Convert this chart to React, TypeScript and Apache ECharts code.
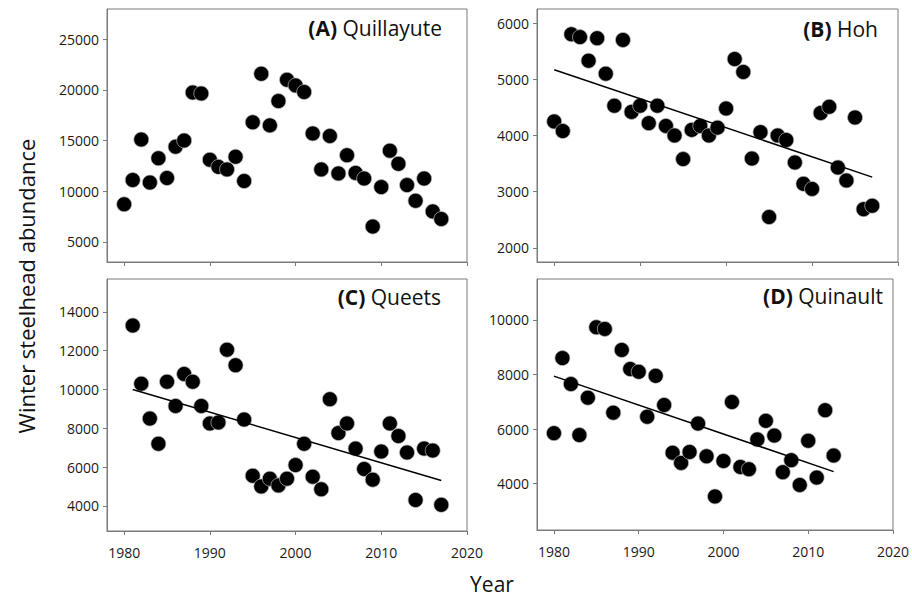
import React, { useEffect, useRef } from "react";
import * as echarts from "echarts";

const yearsA = [1980,1981,1982,1983,1984,1985,1986,1987,1988,1989,1990,1991,1992,1993,1994,1995,1996,1997,1998,1999,2000,2001,2002,2003,2004,2005,2006,2007,2008,2009,2010,2011,2012,2013,2014,2015,2016,2017];
const valuesA = [8700,11100,15100,10850,13250,11300,14400,15000,19750,19650,13100,12400,12150,13400,11000,16800,21600,16500,18900,21000,20450,19800,15700,12150,15450,11750,13550,11800,11250,6500,10400,14000,12700,10600,9050,11250,8000,7250];

const yearsB = yearsA;
const valuesB = [4250,4080,5800,5750,5330,5730,5100,4530,5700,4420,4530,4220,4530,4170,4000,3580,4100,4170,4000,4140,4480,5360,5130,3590,4060,2550,4000,3920,3520,3140,3050,4400,4510,3430,3200,4320,2690,2750];
const trendB = [[1980, 5170], [2017, 3260]];

const yearsC = [1981,1982,1983,1984,1985,1986,1987,1988,1989,1990,1991,1992,1993,1994,1995,1996,1997,1998,1999,2000,2001,2002,2003,2004,2005,2006,2007,2008,2009,2010,2011,2012,2013,2014,2015,2016,2017];
const valuesC = [13300,10300,8500,7200,10400,9150,10800,10400,9150,8250,8300,12050,11250,8450,5550,5000,5400,5050,5400,6100,7200,5500,4850,9500,7750,8250,6950,5900,5350,6800,8250,7600,6750,4300,6950,6850,4050];
const trendC = [[1981, 10000], [2017, 5310]];

const yearsD = [1980,1981,1982,1983,1984,1985,1986,1987,1988,1989,1990,1991,1992,1993,1994,1995,1996,1997,1998,1999,2000,2001,2002,2003,2004,2005,2006,2007,2008,2009,2010,2011,2012,2013];
const valuesD = [5850,8600,7650,5780,7150,9730,9670,6600,8900,8200,8100,6450,7950,6880,5130,4760,5160,6200,5000,3530,4830,6990,4610,4530,5620,6300,5760,4420,4860,3950,5570,4220,6690,5030];
const trendD = [[1980, 7940], [2013, 4440]];

const xTicks = [1980, 1990, 2000, 2010, 2020];
const yTicksA = [5000, 10000, 15000, 20000, 25000];
const yTicksB = [2000, 3000, 4000, 5000, 6000];
const yTicksC = [4000, 6000, 8000, 10000, 12000, 14000];
const yTicksD = [4000, 6000, 8000, 10000];

const panelTitles = [
  { tag: "(A)", name: "Quillayute" },
  { tag: "(B)", name: "Hoh" },
  { tag: "(C)", name: "Queets" },
  { tag: "(D)", name: "Quinault" },
];

const FONT = "Open Sans";

export default function App() {
  const ref = useRef<HTMLDivElement>(null);
  useEffect(() => {
    document.body.style.margin = "0";
    if (!ref.current) return;
    const chart = echarts.init(ref.current, undefined, { renderer: "svg" });
    const frame = "#7a7a7a";
    const grids = [
      { left: 107, top: 9, width: 360, height: 253 },
      { left: 537, top: 9, width: 361, height: 253 },
      { left: 107, top: 279, width: 360, height: 252 },
      { left: 537, top: 279, width: 361, height: 251 },
    ];
    const yRanges = [
      [3000, 28000, yTicksA],
      [1750, 6250, yTicksB],
      [2700, 15700, yTicksC],
      [2300, 11500, yTicksD],
    ] as [number, number, number[]][];
    const plain = (v: number) => String(v);
    const xAxis = grids.map((_, i) => ({
      type: "value",
      gridIndex: i,
      min: 1978,
      max: 2020,
      splitLine: { show: false },
      axisLine: { show: true, lineStyle: { color: frame, width: 1 } },
      axisTick: { show: true, customValues: xTicks, length: 4, lineStyle: { color: frame } },
      axisLabel: {
        show: i >= 2,
        customValues: xTicks,
        formatter: plain,
        margin: 14,
        fontSize: 14,
        color: "#1a1a1a",
        fontFamily: FONT,
      },
    }));
    const yAxis = yRanges.map(([mn, mx, ticks], i) => ({
      type: "value",
      gridIndex: i,
      min: mn,
      max: mx,
      splitLine: { show: false },
      axisLine: { show: true, lineStyle: { color: frame, width: 1 } },
      axisTick: { show: true, customValues: ticks, length: 4, lineStyle: { color: frame } },
      axisLabel: {
        customValues: ticks,
        formatter: plain,
        margin: 8,
        fontSize: 14,
        color: "#1a1a1a",
        fontFamily: FONT,
      },
    }));
    const scatter = (i: number, xs: number[], ys: number[]) => ({
      type: "scatter",
      xAxisIndex: i,
      yAxisIndex: i,
      symbolSize: 15,
      data: xs.map((x, k) => [x, ys[k]]),
      itemStyle: { color: "#000", borderColor: "#bbb", borderWidth: 0.7, opacity: 1 },
      z: 3,
    });
    const trend = (i: number, d: number[][]) => ({
      type: "line",
      xAxisIndex: i,
      yAxisIndex: i,
      data: d,
      symbol: "none",
      lineStyle: { color: "#000", width: 1.5 },
      z: 4,
    });
    const titlePos = [
      { right: 470, top: 17 },
      { right: 34, top: 18 },
      { right: 471, top: 286 },
      { right: 29, top: 285 },
    ];
    chart.setOption({
      animation: false,
      backgroundColor: "#fff",
      grid: grids.map((g) => ({ ...g, show: true, borderColor: frame, borderWidth: 1, backgroundColor: "transparent" })),
      xAxis,
      yAxis,
      title: panelTitles.map((t, i) => ({
        text: `{b|${t.tag}} ${t.name}`,
        ...titlePos[i],
        padding: 0,
        textStyle: {
          fontSize: 21,
          fontWeight: "normal",
          color: "#111",
          fontFamily: FONT,
          rich: { b: { fontSize: 21, fontWeight: "bold", color: "#111", fontFamily: FONT } },
        },
      })),
      graphic: [
        {
          type: "text",
          x: 26,
          y: 286,
          rotation: Math.PI / 2,
          style: {
            text: "Winter steelhead abundance",
            fontSize: 22,
            fontFamily: FONT,
            fill: "#111",
            align: "center",
            verticalAlign: "middle",
          },
        },
        {
          type: "text",
          x: 492,
          y: 584,
          style: {
            text: "Year",
            fontSize: 21,
            fontFamily: FONT,
            fill: "#111",
            align: "center",
            verticalAlign: "middle",
          },
        },
      ],
      series: [
        scatter(0, yearsA, valuesA),
        scatter(1, yearsB, valuesB),
        trend(1, trendB),
        scatter(2, yearsC, valuesC),
        trend(2, trendC),
        scatter(3, yearsD, valuesD),
        trend(3, trendD),
      ],
    });
    return () => chart.dispose();
  }, []);
  return <div ref={ref} style={{ width: 912, height: 601 }} />;
}
